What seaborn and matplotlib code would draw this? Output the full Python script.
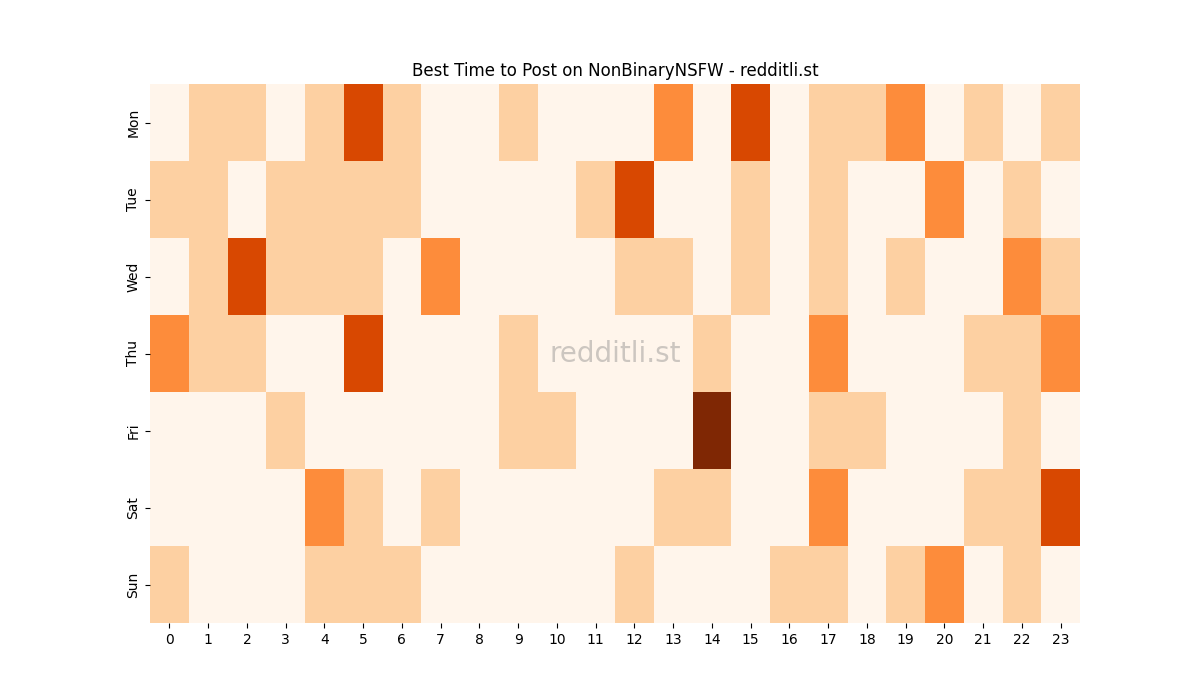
import numpy as np
import pandas as pd
import matplotlib
matplotlib.use("Agg")
import matplotlib.pyplot as plt
import seaborn as sns

days = ["Mon", "Tue", "Wed", "Thu", "Fri", "Sat", "Sun"]
hours = list(range(24))

mon = [0, 1, 1, 0, 1, 3, 1, 0, 0, 1, 0, 0, 0, 2, 0, 3, 0, 1, 1, 2, 0, 1, 0, 1]
tue = [1, 1, 0, 1, 1, 1, 1, 0, 0, 0, 0, 1, 3, 0, 0, 1, 0, 1, 0, 0, 2, 0, 1, 0]
wed = [0, 1, 3, 1, 1, 1, 0, 2, 0, 0, 0, 0, 1, 1, 0, 1, 0, 1, 0, 1, 0, 0, 2, 1]
thu = [2, 1, 1, 0, 0, 3, 0, 0, 0, 1, 0, 0, 0, 0, 1, 0, 0, 2, 0, 0, 0, 1, 1, 2]
fri = [0, 0, 0, 1, 0, 0, 0, 0, 0, 1, 1, 0, 0, 0, 4, 0, 0, 1, 1, 0, 0, 0, 1, 0]
sat = [0, 0, 0, 0, 2, 1, 0, 1, 0, 0, 0, 0, 0, 1, 1, 0, 0, 2, 0, 0, 0, 1, 1, 3]
sun = [1, 0, 0, 0, 1, 1, 1, 0, 0, 0, 0, 0, 1, 0, 0, 0, 1, 1, 0, 1, 2, 0, 1, 0]

df = pd.DataFrame([mon, tue, wed, thu, fri, sat, sun], index=days, columns=hours)

fig, ax = plt.subplots(figsize=(12, 7), dpi=100)
sns.heatmap(df, cmap="Oranges", cbar=False, ax=ax, vmin=0, vmax=4)
ax.set_title("Best Time to Post on NonBinaryNSFW - redditli.st", fontsize=12)
ax.set_xlabel("")
ax.set_ylabel("")
ax.text(0.5, 0.5, "redditli.st", transform=ax.transAxes, ha="center", va="center",
        fontsize=20, color="gray", alpha=0.4)
fig.savefig("out.png", dpi=100)
